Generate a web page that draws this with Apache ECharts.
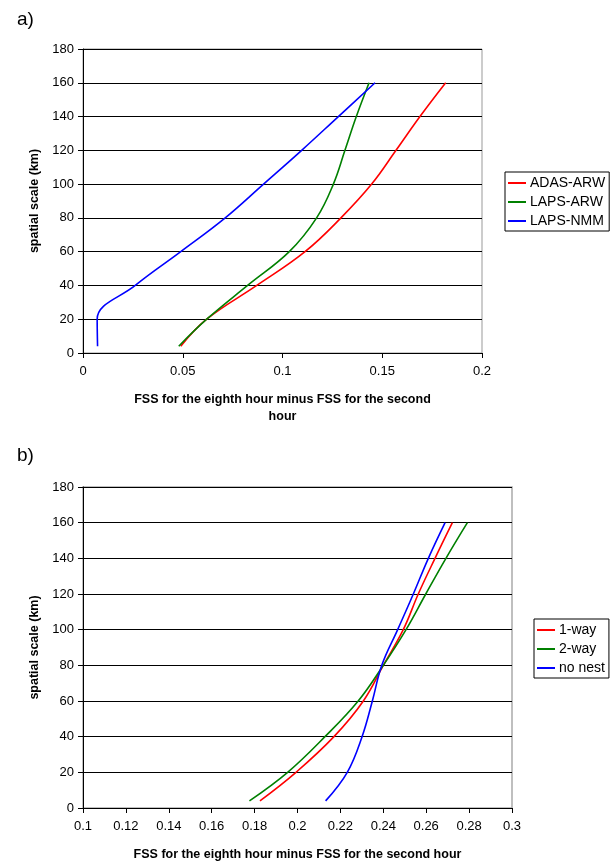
<!DOCTYPE html>
<html lang="en">
<head>
    <meta charset="UTF-8">
    <title>FSS difference vs spatial scale</title>
    <style>
    html, body {
        margin: 0;
        padding: 0;
        background: #fff;
    }
    #chart {
        width: 614px;
        height: 864px;
    }
    </style>
</head>
<body>
    <div id="chart"></div>

    <script src="https://cdn.jsdelivr.net/npm/echarts@6/dist/echarts.min.js"></script>
    <script>
        // spatial scales (km), shared by both panels
        var scales = [4, 20, 40, 60, 80, 100, 120, 140, 160];

        // panel a)
        var adasArw = [0.049, 0.062, 0.0871, 0.1113, 0.1293, 0.1447, 0.1569, 0.1689, 0.1818];
        var lapsArw = [0.048, 0.062, 0.0825, 0.1034, 0.1171, 0.1255, 0.1313, 0.137, 0.1434];
        var lapsNmm = [0.0073, 0.0071, 0.0262, 0.049, 0.0713, 0.0905, 0.1096, 0.128, 0.1464];
        var ticksA = [0, 0.05, 0.1, 0.15, 0.2];

        // panel b)
        var oneWay = [0.1825, 0.1993, 0.217, 0.2307, 0.240, 0.2493, 0.2563, 0.2641, 0.2722];
        var twoWay = [0.1776, 0.1954, 0.2128, 0.2283, 0.240, 0.2506, 0.2598, 0.2692, 0.2792];
        var noNest = [0.2131, 0.2232, 0.2301, 0.2349, 0.2393, 0.2467, 0.254, 0.261, 0.2688];
        var ticksB = [0.1, 0.12, 0.14, 0.16, 0.18, 0.2, 0.22, 0.24, 0.26, 0.28, 0.3];

        function pairs(xs) {
            return xs.map(function (x, i) { return [x, scales[i]]; });
        }

        var font = 'Liberation Sans, Arial, sans-serif';
        var xTitle = 'FSS for the eighth hour minus FSS for the second';

        function xAxisOf(idx, ticks, name) {
            return {
                gridIndex: idx,
                type: 'value',
                min: ticks[0],
                max: ticks[ticks.length - 1],
                interval: +(ticks[1] - ticks[0]).toFixed(2),
                name: name,
                nameLocation: 'middle',
                nameGap: 38,
                nameTextStyle: { fontFamily: font, fontWeight: 'bold', fontSize: 12.5, color: '#000', lineHeight: 17, verticalAlign: 'top' },
                axisLine: { show: true, onZero: false, lineStyle: { color: '#000', width: 1 } },
                axisTick: { show: true, length: 5, lineStyle: { color: '#000' } },
                axisLabel: {
                    fontFamily: font, fontSize: 13, color: '#000', margin: 12,
                    formatter: function (v) { return String(+v.toFixed(2)); }
                },
                splitLine: { show: false }
            };
        }

        function yAxisOf(idx) {
            return {
                gridIndex: idx,
                type: 'value',
                min: 0,
                max: 180,
                interval: 20,
                name: 'spatial scale (km)',
                nameLocation: 'middle',
                nameRotate: 90,
                nameGap: 42,
                nameTextStyle: { fontFamily: font, fontWeight: 'bold', fontSize: 12.5, color: '#000' },
                axisLine: { show: true, lineStyle: { color: '#000', width: 1 } },
                axisTick: { show: true, length: 5, lineStyle: { color: '#000' } },
                axisLabel: { fontFamily: font, fontSize: 13, color: '#000', margin: 9 },
                splitLine: { show: true, lineStyle: { color: '#000', width: 1 } }
            };
        }

        function lineOf(name, xs, color, idx) {
            return {
                name: name,
                type: 'line',
                xAxisIndex: idx,
                yAxisIndex: idx,
                data: pairs(xs),
                smooth: 0.4,
                showSymbol: false,
                symbol: 'none',
                lineStyle: { color: color, width: 1.6 },
                itemStyle: { color: color }
            };
        }

        function legendOf(names, left, top) {
            return {
                data: names,
                orient: 'vertical',
                left: left,
                top: top,
                icon: 'rect',
                itemWidth: 18,
                itemHeight: 2,
                itemGap: 5,
                padding: [4, 4, 3, 3],
                borderColor: '#000',
                borderWidth: 1,
                borderRadius: 0,
                textStyle: { fontFamily: font, fontSize: 14, color: '#000', padding: [0, 0, 0, -1] }
            };
        }

        var myChart = echarts.init(document.getElementById('chart'), null, { renderer: 'canvas' });
        var option = {
            animation: false,
            backgroundColor: '#fff',
            title: [
                { text: 'a)', left: 12, top: 5, textStyle: { fontFamily: font, fontWeight: 'normal', fontSize: 19, color: '#000' } },
                { text: 'b)', left: 12, top: 441, textStyle: { fontFamily: font, fontWeight: 'normal', fontSize: 19, color: '#000' } }
            ],
            grid: [
                { left: 83, top: 49, width: 399, height: 304, show: true, borderColor: '#999', borderWidth: 1, backgroundColor: '#fff' },
                { left: 83, top: 487, width: 429, height: 321, show: true, borderColor: '#aaa', borderWidth: 1.5, backgroundColor: '#fff' }
            ],
            xAxis: [
                xAxisOf(0, ticksA, xTitle + '\nhour'),
                xAxisOf(1, ticksB, xTitle + ' hour')
            ],
            yAxis: [yAxisOf(0), yAxisOf(1)],
            legend: [
                legendOf(['ADAS-ARW', 'LAPS-ARW', 'LAPS-NMM'], 505, 172),
                legendOf(['1-way', '2-way', 'no nest'], 534, 619)
            ],
            series: [
                lineOf('ADAS-ARW', adasArw, '#ff0000', 0),
                lineOf('LAPS-ARW', lapsArw, '#008000', 0),
                lineOf('LAPS-NMM', lapsNmm, '#0000ff', 0),
                lineOf('1-way', oneWay, '#ff0000', 1),
                lineOf('2-way', twoWay, '#008000', 1),
                lineOf('no nest', noNest, '#0000ff', 1)
            ]
        };
        myChart.setOption(option);
    </script>
</body>
</html>
